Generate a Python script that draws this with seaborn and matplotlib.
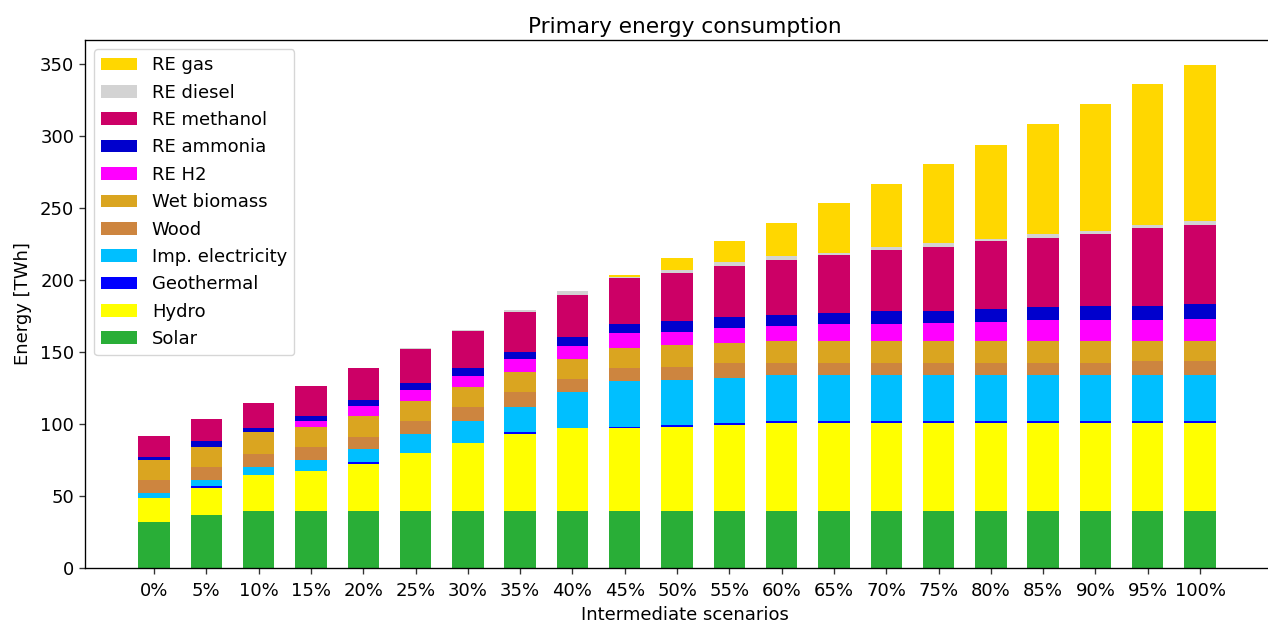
import matplotlib
matplotlib.use("Agg")
import matplotlib.pyplot as plt
from matplotlib.patches import Patch
import numpy as np
import pandas as pd
import seaborn as sns

# Scenario shares of the transition
scenarios = ["0%", "5%", "10%", "15%", "20%", "25%", "30%", "35%", "40%", "45%", "50%",
             "55%", "60%", "65%", "70%", "75%", "80%", "85%", "90%", "95%", "100%"]

# Primary energy by carrier, TWh (bottom to top of each stack)
solar = [31.7, 36.8, 39.5, 39.5, 39.5, 39.5, 39.5, 39.5, 39.5, 39.5, 39.5,
         39.5, 39.5, 39.5, 39.5, 39.5, 39.5, 39.5, 39.5, 39.5, 39.5]
hydro = [16.7, 19.0, 25.3, 28.1, 33.0, 40.6, 47.1, 53.3, 57.5, 57.5, 58.6,
         59.8, 61.2, 61.2, 61.2, 61.2, 61.2, 61.2, 61.2, 61.2, 61.2]
geothermal = [0.0, 1.1, 0.0, 0.0, 1.5, 0.0, 0.0, 1.4, 0.0, 1.2, 1.3,
              1.4, 1.5, 1.5, 1.5, 1.5, 1.5, 1.5, 1.5, 1.5, 1.5]
imp_electricity = [3.9, 4.2, 5.1, 7.6, 8.6, 13.0, 15.3, 17.9, 25.5, 31.7, 31.4,
                   31.7, 31.8, 31.8, 31.8, 31.8, 31.8, 31.8, 31.8, 31.8, 31.8]
wood = [8.8, 8.8, 9.0, 8.8, 8.8, 9.0, 10.2, 10.2, 8.7, 9.0, 9.1,
        10.2, 8.8, 8.8, 8.8, 8.8, 8.8, 8.8, 8.8, 10.0, 10.0]
wet_biomass = [13.9, 13.9, 15.3, 13.9, 14.1, 13.9, 13.8, 13.8, 13.9, 13.9, 15.3,
               14.1, 15.0, 15.0, 15.0, 15.0, 15.0, 15.3, 15.3, 14.1, 14.1]
re_h2 = [0.0, 0.0, 0.0, 4.2, 7.4, 7.6, 7.9, 9.0, 9.0, 10.2, 9.0,
         10.2, 10.4, 11.8, 11.8, 12.7, 13.0, 14.1, 14.1, 14.1, 15.3]
re_ammonia = [2.5, 4.2, 2.8, 3.7, 3.9, 5.1, 5.1, 5.1, 6.5, 6.5, 7.6,
              7.6, 7.9, 7.6, 8.8, 7.9, 9.0, 9.0, 10.2, 10.2, 10.4]
re_methanol = [14.1, 15.3, 17.8, 20.4, 22.0, 23.4, 25.5, 28.0, 29.4, 31.9, 33.1,
               35.6, 38.2, 40.5, 42.4, 44.7, 47.2, 48.4, 49.8, 53.7, 54.9]
re_diesel = [0.0, 0.0, 0.0, 0.0, 0.0, 0.5, 0.9, 0.9, 2.5, 1.2, 2.3,
             2.3, 2.3, 1.4, 2.3, 2.5, 1.4, 2.5, 2.3, 2.5, 2.3]
re_gas = [0.0, 0.0, 0.0, 0.0, 0.0, 0.0, 0.0, 0.0, 0.0, 1.4, 8.1,
          14.6, 23.1, 34.8, 43.6, 54.9, 65.9, 76.6, 88.2, 98.0, 108.5]

carriers = ["Solar", "Hydro", "Geothermal", "Imp. electricity", "Wood", "Wet biomass",
            "RE H2", "RE ammonia", "RE methanol", "RE diesel", "RE gas"]
colors = ["#29ae37", "#ffff00", "#0000ff", "#00bfff", "#cd853f", "#daa520",
          "#ff00ff", "#0000cd", "#cc0066", "#d3d3d3", "#ffd700"]

df = pd.DataFrame({
    "Solar": solar, "Hydro": hydro, "Geothermal": geothermal,
    "Imp. electricity": imp_electricity, "Wood": wood, "Wet biomass": wet_biomass,
    "RE H2": re_h2, "RE ammonia": re_ammonia, "RE methanol": re_methanol,
    "RE diesel": re_diesel, "RE gas": re_gas,
}, index=scenarios)

# Cumulative tops of each layer; drawing from the top layer down stacks the bars
cum = df[carriers].cumsum(axis=1)
cum["scenario"] = scenarios

s = 1.21   # line scale
f = 1.3    # text scale
plt.rcParams.update({
    "font.size": 10 * f,
    "axes.linewidth": 0.8 * s,
    "xtick.major.width": 0.8 * s,
    "ytick.major.width": 0.8 * s,
    "xtick.major.size": 3.5 * s,
    "ytick.major.size": 3.5 * s,
})

fig = plt.figure(figsize=(12.68, 6.25), dpi=100)
ax = fig.add_axes([85 / 1268, 57 / 625, (1285 - 85) / 1268, (568 - 40) / 625])

for name, col in reversed(list(zip(carriers, colors))):
    sns.barplot(data=cum, x="scenario", y=name, order=scenarios, color=col,
                width=0.6, saturation=1, linewidth=0, ax=ax, errorbar=None)

ax.set_xlim(-1.32, 21.625)
ax.set_ylim(0, 367)
ax.set_yticks([0, 50, 100, 150, 200, 250, 300, 350])
ax.set_title("Primary energy consumption", fontsize=12 * f, pad=5)
ax.set_xlabel("Intermediate scenarios", fontsize=10 * f, labelpad=4.5)
ax.set_ylabel("Energy [TWh]", fontsize=10 * f, labelpad=6)
ax.tick_params(colors="#333333", labelcolor="black")
ax.tick_params(axis="x", pad=5.5)

handles = [Patch(facecolor=c, label=n) for n, c in zip(carriers, colors)][::-1]
ax.legend(handles=handles, loc="upper left", fontsize=10 * f,
          labelspacing=0.52, borderaxespad=0.5)

fig.savefig("out.png", dpi=100)
